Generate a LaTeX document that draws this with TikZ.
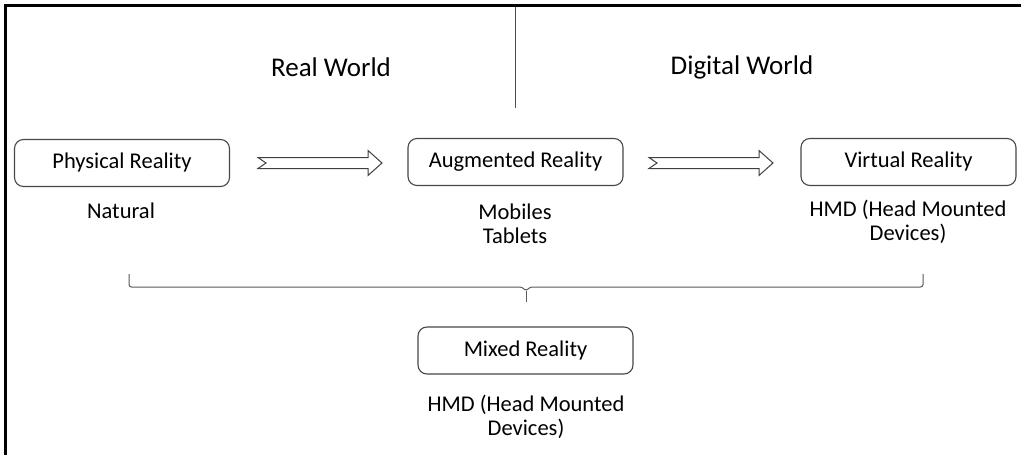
\documentclass[tikz,border=0pt]{standalone}
\usepackage{fontspec}
\setmainfont{Carlito}
\begin{document}
\begin{tikzpicture}[x=1pt,y=-1pt,
  box/.style={draw=black!72, line width=1.1pt, rounded corners=9pt, minimum width=215pt, minimum height=47pt, inner sep=0pt, font=\fontsize{22.5}{25}\selectfont},
  lbl/.style={align=center, inner sep=0pt, font=\fontsize{22.5}{24}\selectfont},
  ttl/.style={inner sep=0pt, font=\fontsize{27}{30}\selectfont},
  blk/.style={draw=black!75, line width=1pt, fill=white, line join=miter},
  brc/.style={draw=black!65, line width=1pt, rounded corners=2.5pt}]
\useasboundingbox (0,0) rectangle (1021,455);
% frame
\coordinate (fbl) at (5.5,455);
\coordinate (ftl) at (5.5,5.5);
\coordinate (ftr) at (1021,5.5);
\draw[line width=3pt] (fbl) -- (ftl) -- (ftr);
% divider
\coordinate (dtop) at (515,7);
\coordinate (dbot) at (515,108);
\draw[black!70, line width=0.6pt] (dtop) -- (dbot);
% titles
\node[ttl] (rw) at (331,67) {Real World};
\node[ttl] (dw) at (742,67) {Digital World};
% boxes
\node[box] (pr) at (122,163) {Physical Reality};
\node[box] (ar) at (515.5,162) {Augmented Reality};
\node[box] (vr) at (908.5,162) {Virtual Reality};
\node[box] (mr) at (525.5,350.5) {Mixed Reality};
% labels
\node[lbl] (nat) at (121,211) {Natural};
\node[lbl] (mob) at (515,224) {Mobiles\\Tablets};
\node[lbl] (hmd1) at (908,222) {HMD (Head Mounted\\Devices)};
\node[lbl] (hmd2) at (526,417) {HMD (Head Mounted\\Devices)};
% block arrows
\newcommand\blockarr[2]{\draw[blk] (#1,#2-5.5) -- ++(110,0) -- ++(0,-7) -- ++(14,12.5) -- ++(-14,12.5) -- ++(0,-7) -- ++(-110,0) -- ++(8,-5.5) -- cycle;}
\blockarr{258}{163}
\blockarr{649}{163}
% brace
\coordinate (bl) at (129,274);
\coordinate (br) at (923,274);
\coordinate (bt) at (526,291);
\coordinate (bb) at (526,302);
\draw[brc] (bl) -- (129,287) -- (522,287) -- (bt) -- (530,287) -- (923,287) -- (br);
\draw[draw=black!65, line width=1pt] (bt) -- (bb);
\end{tikzpicture}
\end{document}
